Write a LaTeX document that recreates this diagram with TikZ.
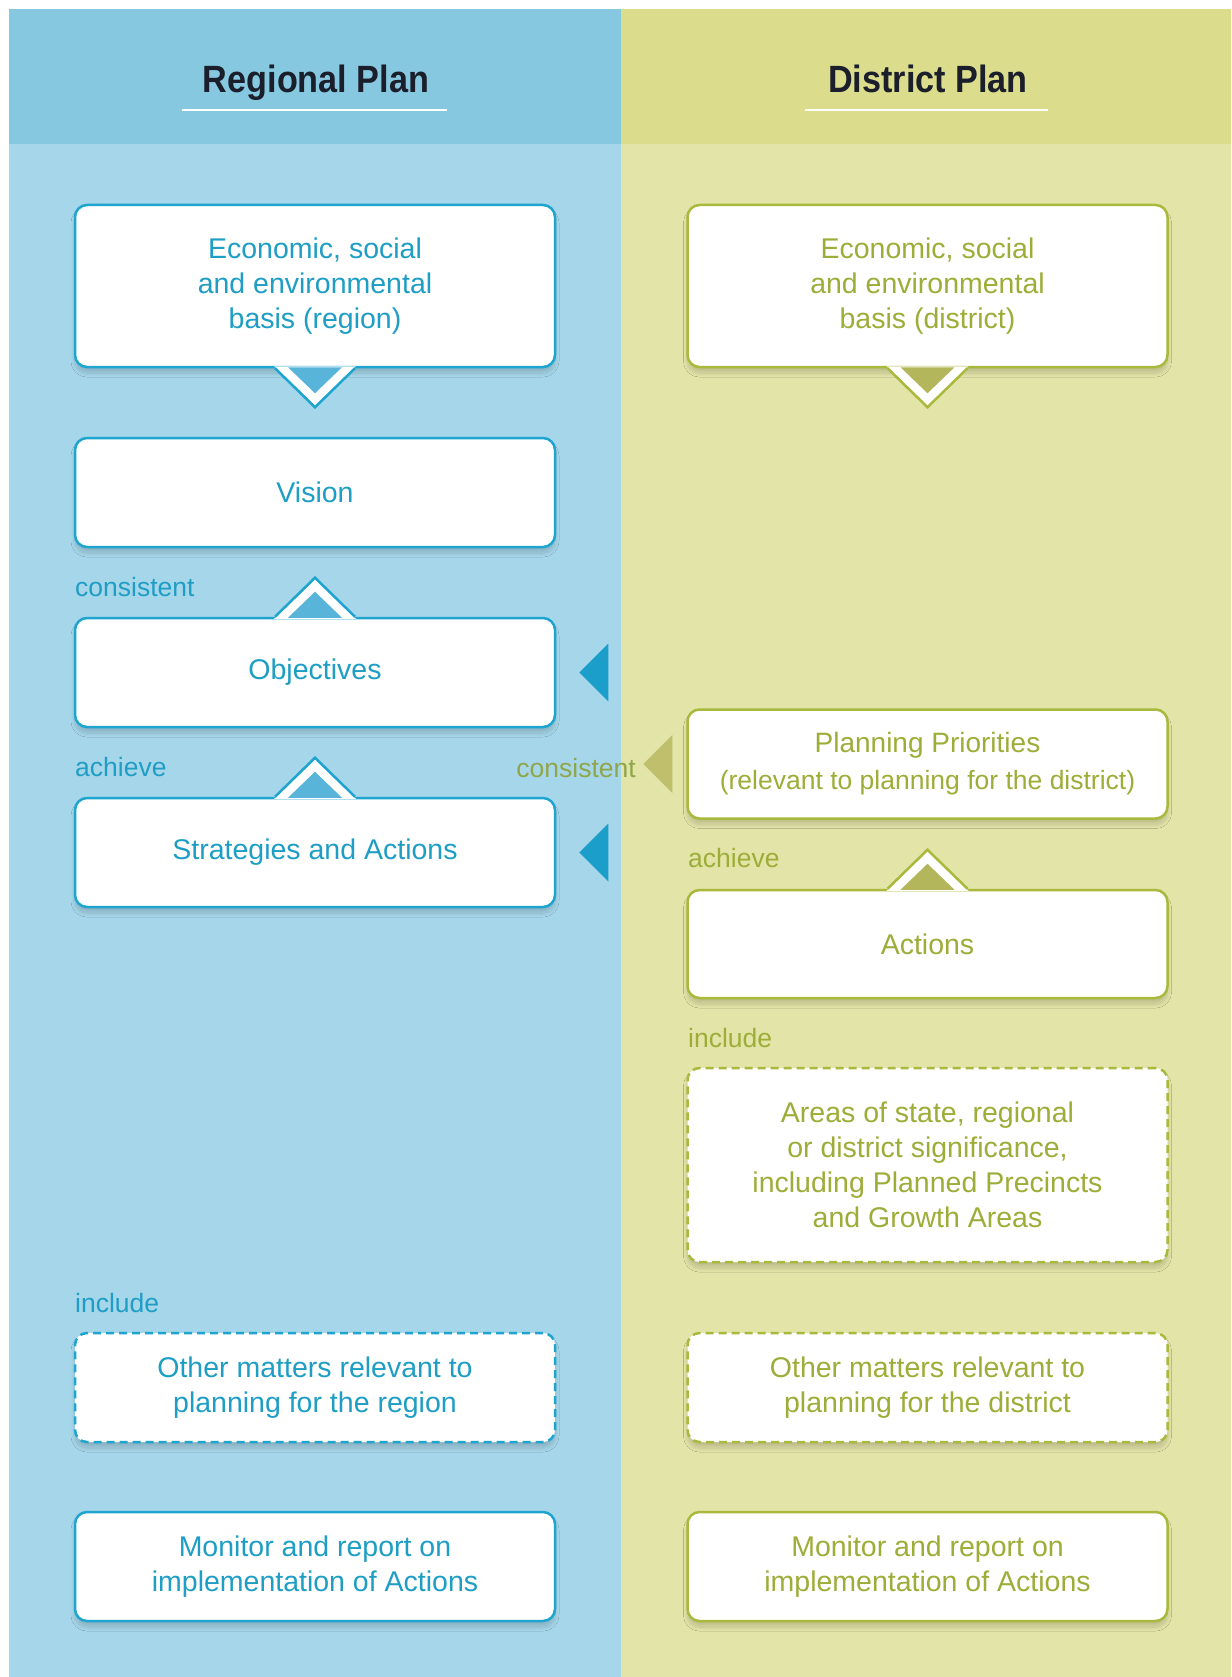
\documentclass[tikz,border=0pt]{standalone}
\usepackage{fontspec}
\usepackage{graphicx}
\setmainfont{Liberation Sans}
\usetikzlibrary{calc,shadows.blur}
\definecolor{bluebg}{HTML}{A6D6EA}
\definecolor{bluehead}{HTML}{86C8E0}
\definecolor{yelbg}{HTML}{E3E4A8}
\definecolor{yelhead}{HTML}{DCDD8C}
\definecolor{bluetxt}{HTML}{1E9EC4}
\definecolor{blueline}{HTML}{1DA5CF}
\definecolor{bluemid}{HTML}{58B5D9}
\definecolor{bluearr}{HTML}{1B9FCA}
\definecolor{greentxt}{HTML}{9DAD38}
\definecolor{greenline}{HTML}{A9B93C}
\definecolor{greenmid}{HTML}{B3B65A}
\definecolor{greenarr}{HTML}{C0C06C}
\definecolor{greenlbl}{HTML}{8FA64A}
\definecolor{headtxt}{HTML}{1B1E2B}
\tikzset{
  planbox/.style={rectangle, rounded corners=12pt, fill=white, line width=2.5pt,
    minimum width=480pt, minimum height=109pt, inner sep=0pt, align=center,
    font=\fontsize{28.5}{35}\selectfont,
    blur shadow={shadow xshift=0pt, shadow yshift=-6pt, shadow blur radius=4pt,
      shadow blur steps=12, shadow opacity=16}},
  bluebox/.style={planbox, draw=blueline, text=bluetxt},
  greenbox/.style={planbox, draw=greenline, text=greentxt},
  dashbox/.style={dash pattern=on 8pt off 5pt},
  lbl/.style={anchor=west, inner sep=0pt, font=\fontsize{26.5}{30}\selectfont},
  headtitle/.style={font=\bfseries\fontsize{38}{40}\selectfont, text=headtxt, inner sep=0pt, anchor=base},
  headrule/.style={white, line width=1.5pt},
}
\newcommand\ptrdown[3]{%
  \fill[white] ($(#1.south)+(-41,-2)$) -- ($(#1.south)+(0,37)$) -- ($(#1.south)+(41,-2)$) -- cycle;
  \draw[#2, line width=2.5pt, line join=miter] ($(#1.south)+(-40,0)$) -- ($(#1.south)+(0,39)$) -- ($(#1.south)+(40,0)$);
  \fill[#3] ($(#1.south)+(-27,-1)$) -- ($(#1.south)+(0,25)$) -- ($(#1.south)+(27,-1)$) -- cycle;
}
\newcommand\ptrup[3]{%
  \fill[white] ($(#1.north)+(-41,2)$) -- ($(#1.north)+(0,-37)$) -- ($(#1.north)+(41,2)$) -- cycle;
  \draw[#2, line width=2.5pt, line join=miter] ($(#1.north)+(-40,0)$) -- ($(#1.north)+(0,-39)$) -- ($(#1.north)+(40,0)$);
  \fill[#3] ($(#1.north)+(-27,1)$) -- ($(#1.north)+(0,-25)$) -- ($(#1.north)+(27,1)$) -- cycle;
}
\begin{document}
\begin{tikzpicture}[x=1pt,y=-1pt]
\useasboundingbox (0,0) rectangle (1231,1677);
\fill[white] (0,0) rectangle (1231,1677);
\fill[bluebg] (9,9) rectangle (621,1677);
\fill[yelbg] (621,9) rectangle (1231,1677);
\fill[bluehead] (9,9) rectangle (621,144);
\fill[yelhead] (621,9) rectangle (1231,144);

\node[headtitle] (hL) at (316,93) {\scalebox{0.9}[1]{Regional Plan}};
\node[headtitle] (hR) at (928,93) {\scalebox{0.9}[1]{District Plan}};
\draw[headrule] (182,110) -- (447,110);
\draw[headrule] (805,110) -- (1048,110);

% left column
\node[bluebox, minimum height=162pt] (econL) at (315,286) {Economic, social\\and environmental\\basis (region)};
\node[bluebox] (vision) at (315,492.5) {Vision};
\node[bluebox] (objectives) at (315,672.5) {Objectives};
\node[bluebox] (strategies) at (315,852.5) {Strategies and Actions};
\node[bluebox, dashbox] (otherL) at (315,1387.5) {Other matters relevant to\\planning for the region};
\node[bluebox] (monitorL) at (315,1566.5) {Monitor and report on\\implementation of Actions};

% right column
\node[greenbox, minimum height=162pt] (econR) at (927.5,286) {Economic, social\\and environmental\\basis (district)};
\node[greenbox, font=\fontsize{28}{37}\selectfont] (priorities) at (927.5,764) {Planning Priorities\\{\fontsize{26.5}{37}\selectfont(relevant to planning for the district)}};
\node[greenbox, minimum height=108pt] (actions) at (927.5,944) {Actions};
\node[greenbox, dashbox, minimum height=194pt] (areas) at (927.5,1165) {Areas of state, regional\\or district significance,\\including Planned Precincts\\and Growth Areas};
\node[greenbox, dashbox] (otherR) at (927.5,1387.5) {Other matters relevant to\\planning for the district};
\node[greenbox] (monitorR) at (927.5,1566.5) {Monitor and report on\\implementation of Actions};

% pointers
\ptrdown{econL}{blueline}{bluemid}
\ptrup{objectives}{blueline}{bluemid}
\ptrup{strategies}{blueline}{bluemid}
\ptrdown{econR}{greenline}{greenmid}
\ptrup{actions}{greenline}{greenmid}

% side arrows
\fill[bluearr] ($(objectives.east)+(23,0)$) -- ++(29,-29) -- ++(0,58) -- cycle;
\fill[bluearr] ($(strategies.east)+(23,0)$) -- ++(29,-29) -- ++(0,58) -- cycle;
\fill[greenarr] ($(priorities.west)+(-43,0)$) -- ++(29,-29) -- ++(0,58) -- cycle;

% labels
\node[lbl, text=bluetxt] (consL) at (75,587) {consistent};
\node[lbl, text=bluetxt] (achL) at (75,767) {achieve};
\node[lbl, text=bluetxt] (incL) at (75,1303) {include};
\node[lbl, text=greentxt] (achR) at (688,858) {achieve};
\node[lbl, text=greentxt] (incR) at (688,1038) {include};
\node[lbl, anchor=east, text=greenlbl] (consR) at (636,768) {consistent};
\end{tikzpicture}
\end{document}
